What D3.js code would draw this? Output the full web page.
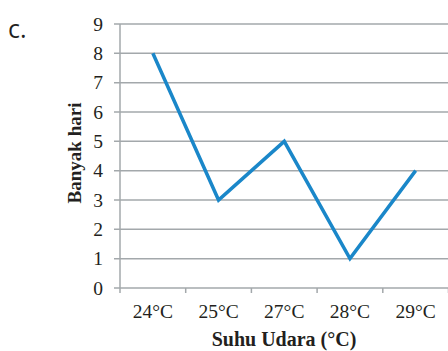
<!DOCTYPE html>
<html><head><meta charset="utf-8">
<script src="https://cdn.jsdelivr.net/npm/d3@7"></script>
<style>body{margin:0;background:#fff}svg{display:block}</style>
</head><body>
<script>
const categories = ["24°C","25°C","27°C","28°C","29°C"];
const values = [8,3,5,1,4];
const yTicks = [0,1,2,3,4,5,6,7,8,9];
const xTitle = "Suhu Udara (°C)";
const yTitle = "Banyak hari";
const label = "c.";

const W=448,H=351;
const svg=d3.select("body").append("svg").attr("width",W).attr("height",H);
const x=d3.scaleBand().domain(categories).range([120,448.5]).paddingInner(0).paddingOuter(0);
const y=d3.scaleLinear().domain([0,9]).range([288,24]);
const grid="#a3a8ab";
const serif="'Liberation Serif','Times New Roman',serif";

// gridlines
svg.append("g").selectAll("line").data(yTicks).join("line")
 .attr("x1",114).attr("x2",448).attr("y1",d=>y(d)).attr("y2",d=>y(d))
 .attr("stroke",grid).attr("stroke-width",1.5);
// y axis line
svg.append("line").attr("x1",120).attr("x2",120).attr("y1",y(9)).attr("y2",y(0)).attr("stroke",grid).attr("stroke-width",1.5);
// x ticks
const xt=categories.map(c=>x(c)).concat([x(categories[categories.length-1])+x.bandwidth()]);
svg.append("g").selectAll("line").data(xt).join("line")
 .attr("x1",d=>d).attr("x2",d=>d).attr("y1",y(0)).attr("y2",y(0)+5)
 .attr("stroke",grid).attr("stroke-width",1.5);
// y tick labels
svg.append("g").selectAll("text").data(yTicks).join("text")
 .attr("x",103).attr("y",d=>y(d)).attr("dy","0.34em").attr("text-anchor","end")
 .attr("font-family",serif).attr("font-size",19.5).attr("fill","#231f20").text(d=>d);
// x tick labels
svg.append("g").selectAll("text").data(categories).join("text")
 .attr("x",d=>x(d)+x.bandwidth()/2).attr("y",318).attr("text-anchor","middle")
 .attr("font-family",serif).attr("font-size",19.5).attr("fill","#231f20").text(d=>d);
// line
const line=d3.line().x((d,i)=>x(categories[i])+x.bandwidth()/2).y(d=>y(d));
svg.append("path").datum(values).attr("d",line).attr("fill","none")
 .attr("stroke","#1a87c9").attr("stroke-width",3.5).attr("stroke-linejoin","miter");
// titles
svg.append("text").attr("x",284).attr("y",346).attr("text-anchor","middle")
 .attr("font-family",serif).attr("font-weight","bold").attr("font-size",20).attr("fill","#231f20").text(xTitle);
svg.append("text").attr("transform","translate(81,153) rotate(-90)").attr("text-anchor","middle")
 .attr("font-family",serif).attr("font-weight","bold").attr("font-size",19).attr("fill","#231f20").text(yTitle);
svg.append("text").attr("x",8).attr("y",38).attr("font-family","'Open Sans','DejaVu Sans',sans-serif")
 .attr("font-size",25).attr("fill","#231f20").text(label);
</script>
</body></html>
